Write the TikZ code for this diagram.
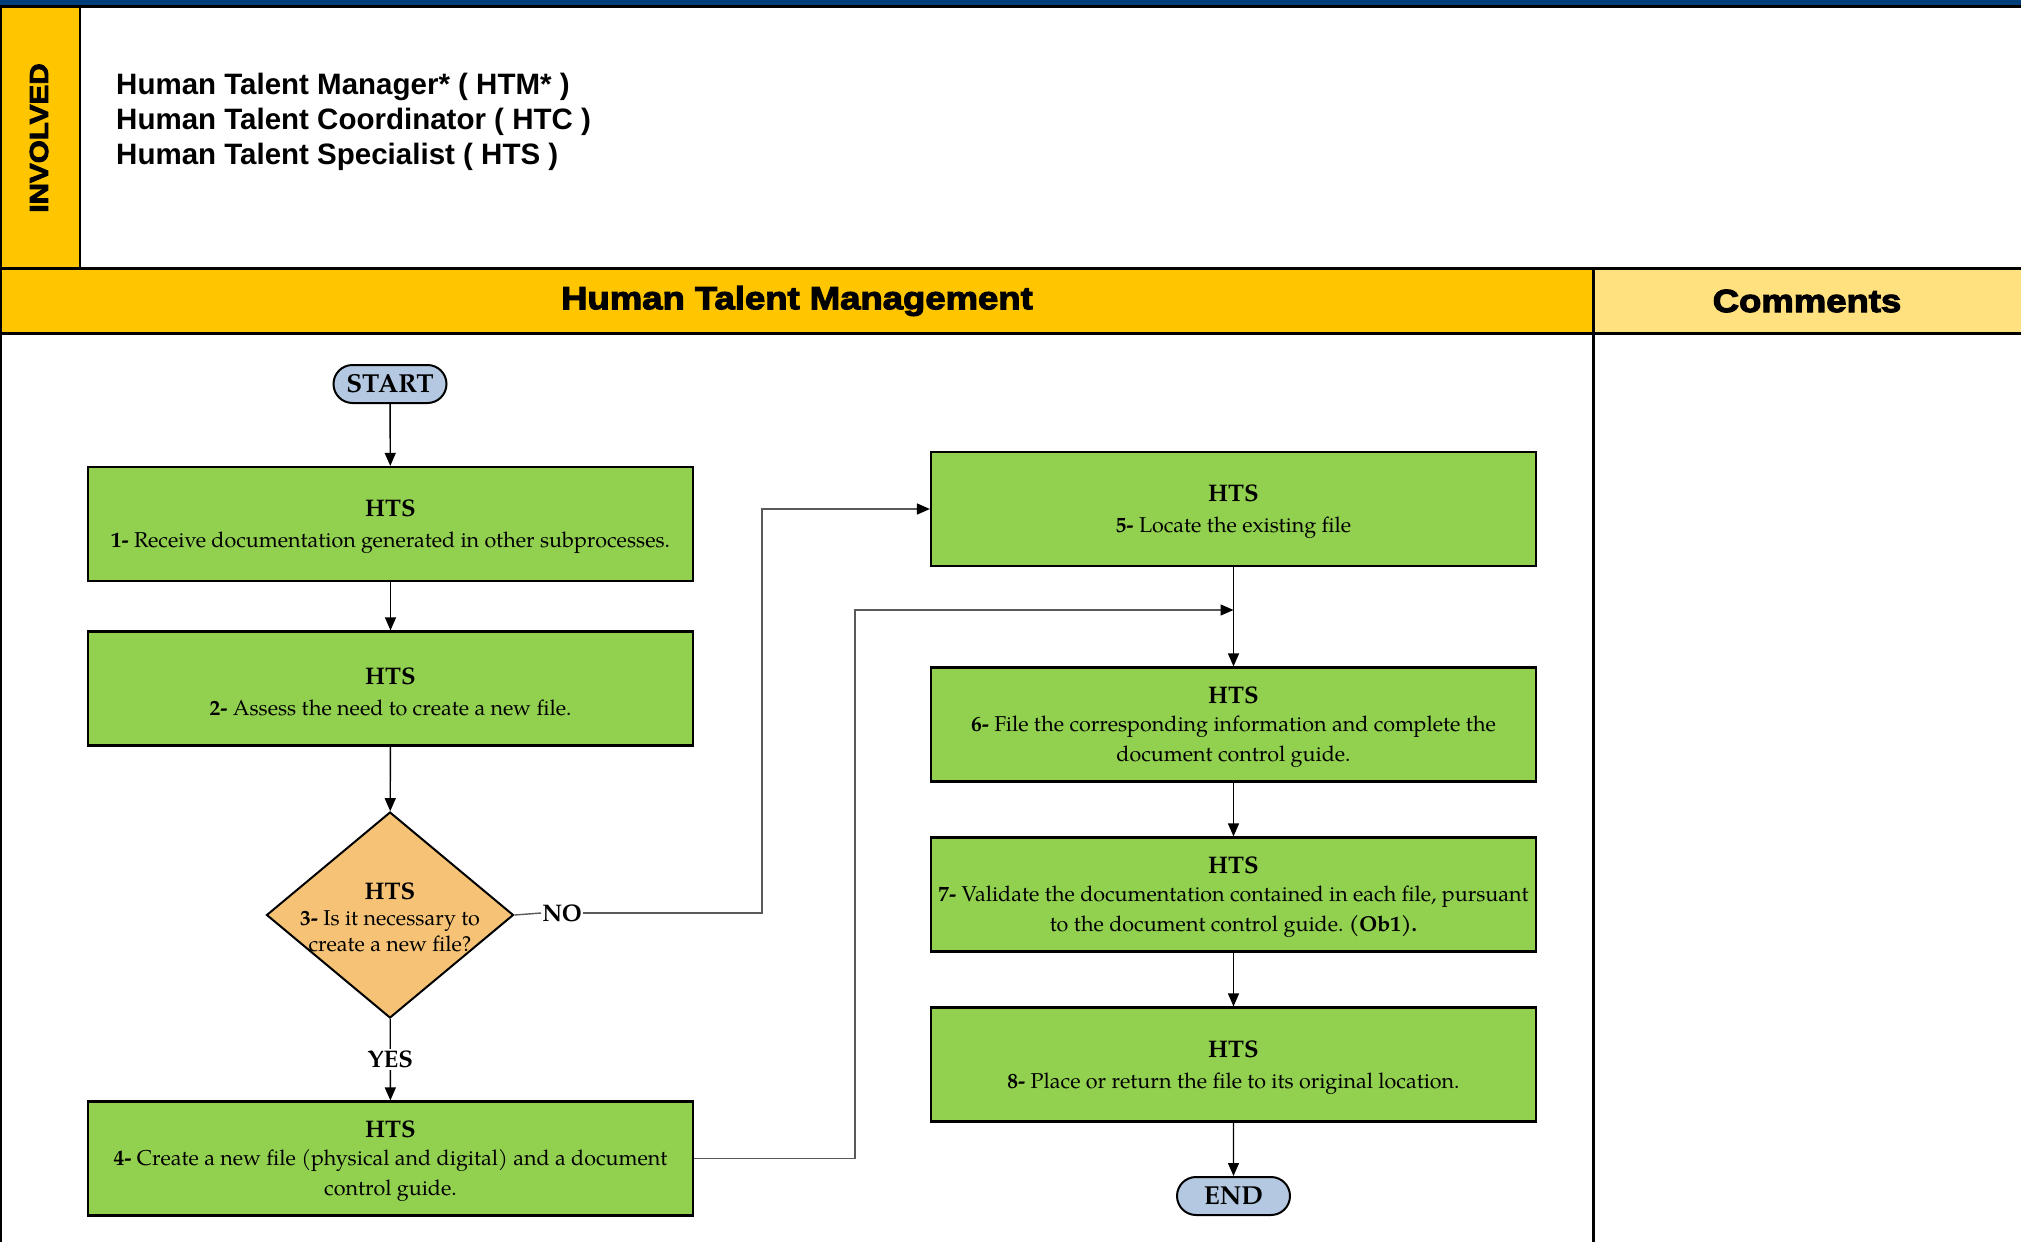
\documentclass[tikz,border=0pt]{standalone}
\usepackage{fontspec}
\usetikzlibrary{arrows.meta,shapes.geometric,shapes.misc}
\setmainfont{TeX Gyre Pagella}
\newfontfamily\rolefont{Liberation Sans}
\newfontfamily\heavyfont{Liberation Sans Bold}[FakeBold=3.5,FakeStretch=1.14]
\frenchspacing

\definecolor{navybar}{HTML}{003F7A}
\definecolor{gold}{HTML}{FFC600}
\definecolor{lightgold}{HTML}{FFE17F}
\definecolor{stepgreen}{HTML}{92D050}
\definecolor{decisionorange}{HTML}{F5C276}
\definecolor{termblue}{HTML}{B4C8E2}

% role heading inside a step; the strut lowers the block a little
\newcommand{\who}[1]{\rule{0pt}{23pt}{\fontsize{24}{29}\selectfont\bfseries #1}}

\tikzset{
  process/.style={draw, line width=2.2pt, fill=stepgreen, minimum width=605pt,
    minimum height=114pt, inner sep=0pt, align=center,
    font=\fontsize{21.5}{30}\selectfont},
  decision/.style={diamond, draw, line width=2pt, fill=decisionorange,
    minimum width=247pt, minimum height=206pt, inner sep=0pt},
  terminal/.style={rounded rectangle, draw, line width=2pt, fill=termblue,
    minimum width=113pt, minimum height=38pt, inner sep=0pt,
    font=\fontsize{26}{30}\selectfont\bfseries},
  flow/.style={line width=1.4pt, -{Triangle[length=13pt,width=11pt,color=black]}},
  elbow/.style={line width=1.4pt, draw=black!65},
  branchlabel/.style={fill=white, inner sep=2pt, font=\fontsize{24}{28}\selectfont\bfseries},
  rule/.style={line width=3pt},
  headline/.style={font=\fontsize{32}{36}\selectfont\heavyfont}
}

\begin{document}
\begin{tikzpicture}[x=1pt,y=-1pt]
\useasboundingbox (0,0) rectangle (2021,1242);

% frame of the form
\fill[navybar] (0,0) rectangle (2021,5);
\fill[gold] (0,6) rectangle (80,268);
\fill[gold] (0,268) rectangle (1593,333);
\fill[lightgold] (1593,268) rectangle (2021,333);
\draw[rule] (0,6) -- (2021,6);
\draw[line width=2.5pt] (80,6) -- (80,268);
\draw[rule] (0,268) -- (2021,268);
\draw[rule] (0,333) -- (2021,333);
\draw[rule] (1593,268) -- (1593,1242);
\draw[line width=2.5pt] (1.2,6) -- (1.2,1242);

% involved roles
\node[rotate=90, font=\fontsize{26}{30}\selectfont\heavyfont] (involved) at (39,138) {INVOLVED};
\node[anchor=west, align=left, inner sep=0pt, font=\fontsize{29.5}{35}\selectfont\rolefont\bfseries] (roles) at (116,122)
  {Human Talent Manager* ( HTM* )\\Human Talent Coordinator ( HTC )\\Human Talent Specialist ( HTS )};

% column headers
\node[headline] (lanetitle) at (797,301) {Human Talent Management};
\node[headline] (comments) at (1807,301) {Comments};

% flow steps
\node[terminal] (start) at (390,384) {START};
\node[process] (b1) at (390.5,524) {\who{HTS}\\[1pt]\textbf{1-} Receive documentation generated in other subprocesses.};
\node[process] (b2) at (390.5,688.5) {\who{HTS}\\[1pt]\textbf{2-} Assess the need to create a new file.};
\node[decision] (d3) at (390,915) {};
\node[align=center, inner sep=0pt, font=\fontsize{21.5}{26}\selectfont] (d3text) at (390,917)
  {{\fontsize{24}{29}\selectfont\bfseries HTS}\\\textbf{3-} Is it necessary to\\create a new file?};
\node[process] (b4) at (390.5,1158.5) {\who{HTS}\\[-2pt]\textbf{4-} Create a new file (physical and digital) and a document\\control guide.};

\node[process] (b5) at (1233.5,509) {\who{HTS}\\[1pt]\textbf{5-} Locate the existing file};
\node[process] (b6) at (1233.5,724.5) {\who{HTS}\\[-2pt]\textbf{6-} File the corresponding information and complete the\\document control guide.};
\node[process] (b7) at (1233.5,894.5) {\who{HTS}\\[-2pt]\textbf{7-} Validate the documentation contained in each file, pursuant\\to the document control guide. \textbf{(Ob1).}};
\node[process] (b8) at (1233.5,1064.5) {\who{HTS}\\[1pt]\textbf{8-} Place or return the file to its original location.};
\node[terminal] (end) at (1233.5,1196) {END};

% connectors
\draw[flow] (start) -- (b1);
\draw[flow] (b1) -- (b2);
\draw[flow] (b2) -- (d3);
\draw[flow] (d3) -- node[branchlabel] (yes) {YES} (b4);

\node[branchlabel, inner sep=1pt] (no) at (562,913) {NO};
\draw[elbow] (d3.east) -- (no.west);
\coordinate (nobend) at (762,509);
\draw[elbow, flow, draw=black!65] (no.east) -| (nobend) -- (b5.west);

\coordinate (mergebend) at (855,610);
\coordinate (merge) at (1233.5,610);
\draw[elbow, flow, draw=black!65] (b4.east) -| (mergebend) -- (merge);

\draw[flow] (b5) -- (b6);
\draw[flow] (b6) -- (b7);
\draw[flow] (b7) -- (b8);
\draw[flow] (b8) -- (end);
\end{tikzpicture}
\end{document}
